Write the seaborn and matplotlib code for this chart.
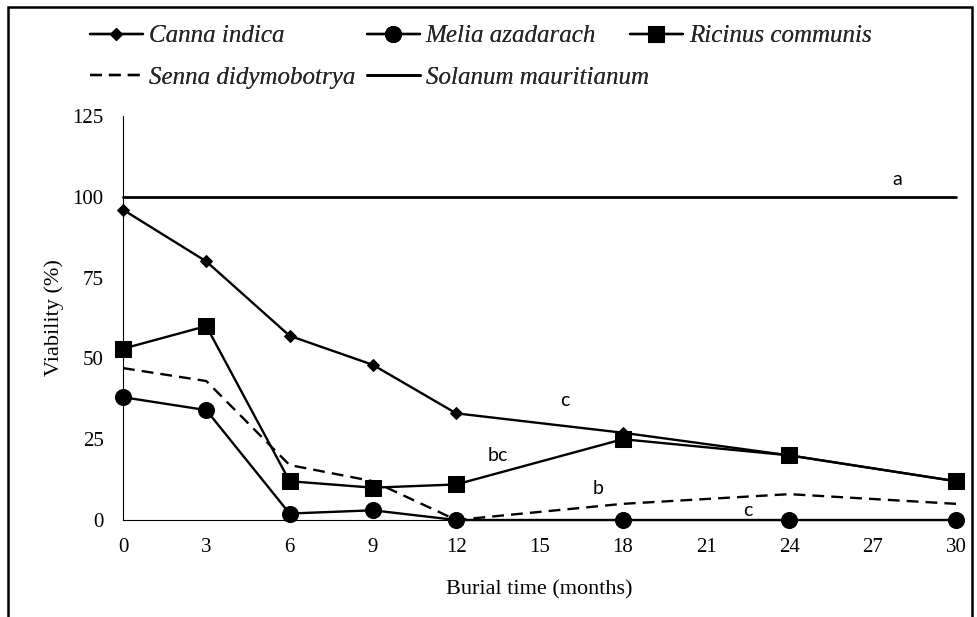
import matplotlib
matplotlib.use("Agg")
import matplotlib.pyplot as plt
import seaborn as sns
import pandas as pd
from matplotlib.patches import Rectangle

# ---- data ----
months = [0, 3, 6, 9, 12, 18, 24, 30]
canna = [96, 80, 57, 48, 33, 27, 20, 12]
melia = [38, 34, 2, 3, 0, 0, 0, 0]
ricinus = [53, 60, 12, 10, 11, 25, 20, 12]
senna = [47, 43, 17, 12, 0, 5, 8, 5]
solanum = [100, 100, 100, 100, 100, 100, 100, 100]
xticks = [0, 3, 6, 9, 12, 15, 18, 21, 24, 27, 30]
yticks = [0, 25, 50, 75, 100, 125]
letters = ["a", "c", "bc", "b", "c"]
letter_pos = [(27.9, 105.5), (15.9, 37.0), (13.5, 20.0), (17.1, 9.8), (22.5, 2.8)]

sns.set_theme(style="white")
plt.rcParams["font.family"] = ["Liberation Serif", "DejaVu Serif"]

W, H = 977, 617
fig = plt.figure(figsize=(W / 100, H / 100), dpi=100)
ax = fig.add_axes([123 / W, 1 - 520 / H, (956 - 123) / W, (520 - 116) / H])

def df(vals):
    return pd.DataFrame({"month": months, "v": vals})

lw = 1.7
sns.lineplot(data=df(canna), x="month", y="v", ax=ax, color="black", lw=lw,
             marker="D", markersize=6.5, markeredgecolor="black", clip_on=False)
sns.lineplot(data=df(melia), x="month", y="v", ax=ax, color="black", lw=lw,
             marker="o", markersize=11.5, markeredgecolor="black", clip_on=False)
sns.lineplot(data=df(ricinus), x="month", y="v", ax=ax, color="black", lw=lw,
             marker="s", markersize=11, markeredgecolor="black", clip_on=False)
sns.lineplot(data=df(senna), x="month", y="v", ax=ax, color="black", lw=lw,
             clip_on=False)
sns.lineplot(data=df(solanum), x="month", y="v", ax=ax, color="black", lw=2.0, clip_on=False)

lines = ax.get_lines()
lines[3].set_dashes((5, 3))

ax.set_xlim(0, 30)
ax.set_ylim(0, 125)
ax.set_xticks(xticks)
ax.set_yticks(yticks)
ax.tick_params(axis="both", length=0, labelsize=15, colors="black")
ax.tick_params(axis="x", pad=13)
ax.tick_params(axis="y", pad=14)
for s in ["top", "right"]:
    ax.spines[s].set_visible(False)
for s in ["left", "bottom"]:
    ax.spines[s].set_color("black")
    ax.spines[s].set_linewidth(0.8)
ax.grid(False)

ax.set_xlabel("Burial time (months)", fontsize=16, color="black", labelpad=17)
ax.set_ylabel("Viability (%)", fontsize=16, color="black", labelpad=6)

for t, (x, y) in zip(letters, letter_pos):
    ax.text(x, y, t, fontsize=14, family=["Lato", "DejaVu Sans"], ha="center", va="center",
            color="black")

names = ["Canna indica", "Melia azadarach", "Ricinus communis",
         "Senna didymobotrya", "Solanum mauritianum"]
cols = [[0, 3], [1, 4], [2]]
col_x = [90, 367, 630]
for idx, cx in zip(cols, col_x):
    leg = fig.legend([lines[i] for i in idx], [names[i] for i in idx],
                     loc="upper left", bbox_to_anchor=(cx / W, 1 - 25 / H),
                     frameon=False, borderpad=0, borderaxespad=0,
                     handlelength=2.1, handletextpad=0.25, labelspacing=0.75,
                     prop={"family": "Liberation Serif", "style": "italic", "size": 18})
    fig.add_artist(leg)

fig.add_artist(Rectangle((8 / W, -0.1), (972 - 8) / W, 1.1 - 7 / H,
                         transform=fig.transFigure, fill=False, edgecolor="black",
                         linewidth=1.8, clip_on=False))

fig.savefig("out.png", dpi=100, facecolor="white")
